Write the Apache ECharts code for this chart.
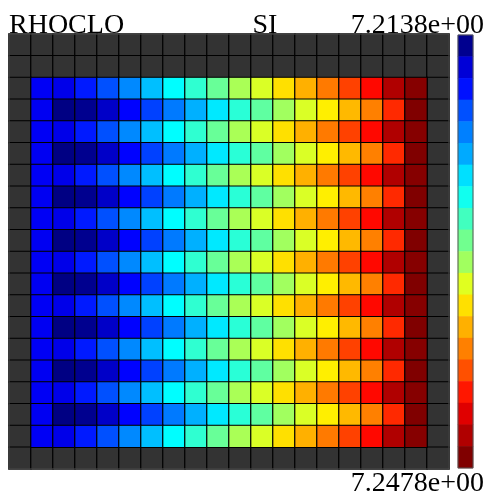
<!DOCTYPE html>
<html>
<head>
<meta charset="utf-8">
<script src="https://cdn.jsdelivr.net/npm/echarts@6/dist/echarts.min.js"></script>
<style>
html,body{margin:0;padding:0;background:#fff;}
#chart{width:488px;height:497px;}
</style>
</head>
<body>
<div id="chart"></div>
<script>
// ---- data ----
const varName = 'RHOCLO';
const unitName = 'SI';
const minLabel = '7.2138e+00';
const maxLabel = '7.2478e+00';
const vMin = 7.2138;
const vMax = 7.2478;
const nCols = 20;   // including frame cells
const nRows = 20;
// interior row patterns (columns 1..18)
const rowA = [7.2177,7.2173,7.2189,7.2207,7.2226,7.2244,7.2265,7.2281,7.2300,7.2322,7.2338,7.2361,7.2377,7.2395,7.2414,7.2433,7.2462,7.2476];
const rowB = [7.2176,7.2139,7.2143,7.2162,7.2181,7.2202,7.2221,7.2239,7.2258,7.2279,7.2297,7.2319,7.2338,7.2356,7.2374,7.2393,7.2422,7.2478];
// interior rows top->bottom (rows 2..18)
const rowOrder = ['A','B','A','B','A','B','A','B','A','B','A','B','A','B','A','B','A'];
const firstDataRow = 2;
// colorbar levels top->bottom
const barLevels = [7.2143,7.2167,7.2186,7.2207,7.2223,7.2237,7.2255,7.2271,7.2287,7.2303,7.2319,7.2340,7.2361,7.2377,7.2393,7.2409,7.2428,7.2446,7.2462,7.2478];
const jetColors = ['#000080','#0000ff','#0080ff','#00ffff','#80ff80','#ffff00','#ff8000','#ff0000','#800000'];

// ---- build ----
const rowsMap = {A: rowA, B: rowB};
const cellData = [];
rowOrder.forEach((k, r) => {
  rowsMap[k].forEach((v, c) => cellData.push([c + 1, r + firstDataRow, v]));
});
const lastDataRow = firstDataRow + rowOrder.length - 1;
const frameData = [];
for (let y = 0; y < nRows; y++) {
  for (let x = 0; x < nCols; x++) {
    const inside = x >= 1 && x <= nCols - 2 && y >= firstDataRow && y <= lastDataRow;
    if (!inside) frameData.push([x, y, 0]);
  }
}
const barData = barLevels.map((v, i) => [0, i, v]);
const colCats = Array.from({length: nCols}, (_, i) => String(i));
const rowCats = Array.from({length: nRows}, (_, i) => String(i));
const barCats = barLevels.map((_, i) => String(i));

const chart = echarts.init(document.getElementById('chart'), null, {renderer: 'canvas'});
const font = '28px "Liberation Serif", "Times New Roman", serif';
chart.setOption({
  animation: false,
  backgroundColor: '#ffffff',
  grid: [
    {left: 9, top: 34, width: 440, height: 435, show: true, borderColor: '#555', borderWidth: 1, backgroundColor: 'transparent', z: 5},
    {left: 458, top: 35, width: 15, height: 433, show: true, borderColor: '#555', borderWidth: 1, backgroundColor: 'transparent', z: 5}
  ],
  xAxis: [
    {type: 'category', gridIndex: 0, data: colCats, show: false},
    {type: 'category', gridIndex: 1, data: ['0'], show: false}
  ],
  yAxis: [
    {type: 'category', gridIndex: 0, data: rowCats, inverse: true, show: false},
    {type: 'category', gridIndex: 1, data: barCats, inverse: true, show: false}
  ],
  visualMap: {
    type: 'continuous', show: false, min: vMin, max: vMax, seriesIndex: [1, 2],
    inRange: {color: jetColors}
  },
  graphic: [
    {type: 'text', z: 0, style: {text: varName, x: 9, y: 26, font: font, fill: '#000', textAlign: 'left', textVerticalAlign: 'middle'}},
    {type: 'text', z: 0, style: {text: unitName, x: 265, y: 26, font: font, fill: '#000', textAlign: 'center', textVerticalAlign: 'middle'}},
    {type: 'text', z: 0, style: {text: minLabel, x: 484, y: 26, font: font, fill: '#000', textAlign: 'right', textVerticalAlign: 'middle'}},
    {type: 'text', z: 0, style: {text: maxLabel, x: 484, y: 484, font: font, fill: '#000', textAlign: 'right', textVerticalAlign: 'middle'}}
  ],
  series: [
    {type: 'heatmap', xAxisIndex: 0, yAxisIndex: 0, data: frameData,
     itemStyle: {color: '#333333', borderColor: '#000', borderWidth: 1.2}, emphasis: {disabled: true}},
    {type: 'heatmap', xAxisIndex: 0, yAxisIndex: 0, data: cellData,
     itemStyle: {borderColor: '#000', borderWidth: 1.2}, emphasis: {disabled: true}},
    {type: 'heatmap', xAxisIndex: 1, yAxisIndex: 1, data: barData,
     itemStyle: {borderWidth: 0}, emphasis: {disabled: true}}
  ]
});
</script>
</body>
</html>
